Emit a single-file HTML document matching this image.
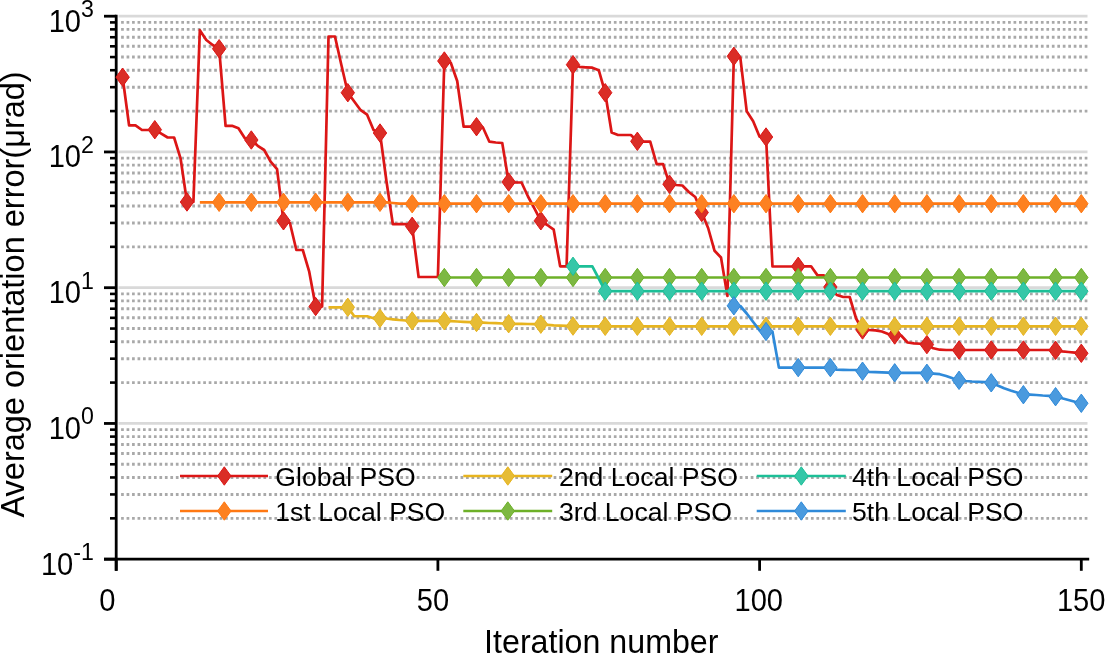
<!DOCTYPE html>
<html><head><meta charset="utf-8"><style>
html,body{margin:0;padding:0;background:#fff;}
svg{display:block;will-change:transform;}
text{font-family:"Liberation Sans",sans-serif;fill:#000;}
</style></head><body>
<svg width="1105" height="654" viewBox="0 0 1105 654">
<rect width="1105" height="654" fill="#fff"/>
<line x1="118.5" y1="16.20" x2="1087.5" y2="16.20" stroke="#d9d9d9" stroke-width="2.8"/>
<line x1="118.5" y1="151.95" x2="1087.5" y2="151.95" stroke="#d9d9d9" stroke-width="2.8"/>
<line x1="118.5" y1="287.70" x2="1087.5" y2="287.70" stroke="#d9d9d9" stroke-width="2.8"/>
<line x1="118.5" y1="423.45" x2="1087.5" y2="423.45" stroke="#d9d9d9" stroke-width="2.8"/>
<line x1="121.1" y1="111.09" x2="1087.5" y2="111.09" stroke="#a9a9a9" stroke-width="2.9" stroke-dasharray="2.7 2.775"/>
<line x1="121.1" y1="87.18" x2="1087.5" y2="87.18" stroke="#a9a9a9" stroke-width="2.9" stroke-dasharray="2.7 2.775"/>
<line x1="121.1" y1="70.22" x2="1087.5" y2="70.22" stroke="#a9a9a9" stroke-width="2.9" stroke-dasharray="2.7 2.775"/>
<line x1="121.1" y1="57.06" x2="1087.5" y2="57.06" stroke="#a9a9a9" stroke-width="2.9" stroke-dasharray="2.7 2.775"/>
<line x1="121.1" y1="46.32" x2="1087.5" y2="46.32" stroke="#a9a9a9" stroke-width="2.9" stroke-dasharray="2.7 2.775"/>
<line x1="121.1" y1="37.23" x2="1087.5" y2="37.23" stroke="#a9a9a9" stroke-width="2.9" stroke-dasharray="2.7 2.775"/>
<line x1="121.1" y1="29.36" x2="1087.5" y2="29.36" stroke="#a9a9a9" stroke-width="2.9" stroke-dasharray="2.7 2.775"/>
<line x1="121.1" y1="22.41" x2="1087.5" y2="22.41" stroke="#a9a9a9" stroke-width="2.9" stroke-dasharray="2.7 2.775"/>
<line x1="121.1" y1="246.84" x2="1087.5" y2="246.84" stroke="#a9a9a9" stroke-width="2.9" stroke-dasharray="2.7 2.775"/>
<line x1="121.1" y1="222.93" x2="1087.5" y2="222.93" stroke="#a9a9a9" stroke-width="2.9" stroke-dasharray="2.7 2.775"/>
<line x1="121.1" y1="205.97" x2="1087.5" y2="205.97" stroke="#a9a9a9" stroke-width="2.9" stroke-dasharray="2.7 2.775"/>
<line x1="121.1" y1="192.81" x2="1087.5" y2="192.81" stroke="#a9a9a9" stroke-width="2.9" stroke-dasharray="2.7 2.775"/>
<line x1="121.1" y1="182.07" x2="1087.5" y2="182.07" stroke="#a9a9a9" stroke-width="2.9" stroke-dasharray="2.7 2.775"/>
<line x1="121.1" y1="172.98" x2="1087.5" y2="172.98" stroke="#a9a9a9" stroke-width="2.9" stroke-dasharray="2.7 2.775"/>
<line x1="121.1" y1="165.11" x2="1087.5" y2="165.11" stroke="#a9a9a9" stroke-width="2.9" stroke-dasharray="2.7 2.775"/>
<line x1="121.1" y1="158.16" x2="1087.5" y2="158.16" stroke="#a9a9a9" stroke-width="2.9" stroke-dasharray="2.7 2.775"/>
<line x1="121.1" y1="382.59" x2="1087.5" y2="382.59" stroke="#a9a9a9" stroke-width="2.9" stroke-dasharray="2.7 2.775"/>
<line x1="121.1" y1="358.68" x2="1087.5" y2="358.68" stroke="#a9a9a9" stroke-width="2.9" stroke-dasharray="2.7 2.775"/>
<line x1="121.1" y1="341.72" x2="1087.5" y2="341.72" stroke="#a9a9a9" stroke-width="2.9" stroke-dasharray="2.7 2.775"/>
<line x1="121.1" y1="328.56" x2="1087.5" y2="328.56" stroke="#a9a9a9" stroke-width="2.9" stroke-dasharray="2.7 2.775"/>
<line x1="121.1" y1="317.82" x2="1087.5" y2="317.82" stroke="#a9a9a9" stroke-width="2.9" stroke-dasharray="2.7 2.775"/>
<line x1="121.1" y1="308.73" x2="1087.5" y2="308.73" stroke="#a9a9a9" stroke-width="2.9" stroke-dasharray="2.7 2.775"/>
<line x1="121.1" y1="300.86" x2="1087.5" y2="300.86" stroke="#a9a9a9" stroke-width="2.9" stroke-dasharray="2.7 2.775"/>
<line x1="121.1" y1="293.91" x2="1087.5" y2="293.91" stroke="#a9a9a9" stroke-width="2.9" stroke-dasharray="2.7 2.775"/>
<line x1="121.1" y1="518.34" x2="1087.5" y2="518.34" stroke="#a9a9a9" stroke-width="2.9" stroke-dasharray="2.7 2.775"/>
<line x1="121.1" y1="494.43" x2="1087.5" y2="494.43" stroke="#a9a9a9" stroke-width="2.9" stroke-dasharray="2.7 2.775"/>
<line x1="121.1" y1="477.47" x2="1087.5" y2="477.47" stroke="#a9a9a9" stroke-width="2.9" stroke-dasharray="2.7 2.775"/>
<line x1="121.1" y1="464.31" x2="1087.5" y2="464.31" stroke="#a9a9a9" stroke-width="2.9" stroke-dasharray="2.7 2.775"/>
<line x1="121.1" y1="453.57" x2="1087.5" y2="453.57" stroke="#a9a9a9" stroke-width="2.9" stroke-dasharray="2.7 2.775"/>
<line x1="121.1" y1="444.48" x2="1087.5" y2="444.48" stroke="#a9a9a9" stroke-width="2.9" stroke-dasharray="2.7 2.775"/>
<line x1="121.1" y1="436.61" x2="1087.5" y2="436.61" stroke="#a9a9a9" stroke-width="2.9" stroke-dasharray="2.7 2.775"/>
<line x1="121.1" y1="429.66" x2="1087.5" y2="429.66" stroke="#a9a9a9" stroke-width="2.9" stroke-dasharray="2.7 2.775"/>
<line x1="116.2" y1="14.8" x2="116.2" y2="570.8" stroke="#000" stroke-width="2.8"/>
<line x1="104" y1="559.2" x2="1089.2" y2="559.2" stroke="#000" stroke-width="2.8"/>
<line x1="104" y1="16.20" x2="116.2" y2="16.20" stroke="#000" stroke-width="2.8"/>
<line x1="110" y1="111.09" x2="116.2" y2="111.09" stroke="#000" stroke-width="2.6"/>
<line x1="110" y1="87.18" x2="116.2" y2="87.18" stroke="#000" stroke-width="2.6"/>
<line x1="110" y1="70.22" x2="116.2" y2="70.22" stroke="#000" stroke-width="2.6"/>
<line x1="110" y1="57.06" x2="116.2" y2="57.06" stroke="#000" stroke-width="2.6"/>
<line x1="110" y1="46.32" x2="116.2" y2="46.32" stroke="#000" stroke-width="2.6"/>
<line x1="110" y1="37.23" x2="116.2" y2="37.23" stroke="#000" stroke-width="2.6"/>
<line x1="110" y1="29.36" x2="116.2" y2="29.36" stroke="#000" stroke-width="2.6"/>
<line x1="110" y1="22.41" x2="116.2" y2="22.41" stroke="#000" stroke-width="2.6"/>
<line x1="104" y1="151.95" x2="116.2" y2="151.95" stroke="#000" stroke-width="2.8"/>
<line x1="110" y1="246.84" x2="116.2" y2="246.84" stroke="#000" stroke-width="2.6"/>
<line x1="110" y1="222.93" x2="116.2" y2="222.93" stroke="#000" stroke-width="2.6"/>
<line x1="110" y1="205.97" x2="116.2" y2="205.97" stroke="#000" stroke-width="2.6"/>
<line x1="110" y1="192.81" x2="116.2" y2="192.81" stroke="#000" stroke-width="2.6"/>
<line x1="110" y1="182.07" x2="116.2" y2="182.07" stroke="#000" stroke-width="2.6"/>
<line x1="110" y1="172.98" x2="116.2" y2="172.98" stroke="#000" stroke-width="2.6"/>
<line x1="110" y1="165.11" x2="116.2" y2="165.11" stroke="#000" stroke-width="2.6"/>
<line x1="110" y1="158.16" x2="116.2" y2="158.16" stroke="#000" stroke-width="2.6"/>
<line x1="104" y1="287.70" x2="116.2" y2="287.70" stroke="#000" stroke-width="2.8"/>
<line x1="110" y1="382.59" x2="116.2" y2="382.59" stroke="#000" stroke-width="2.6"/>
<line x1="110" y1="358.68" x2="116.2" y2="358.68" stroke="#000" stroke-width="2.6"/>
<line x1="110" y1="341.72" x2="116.2" y2="341.72" stroke="#000" stroke-width="2.6"/>
<line x1="110" y1="328.56" x2="116.2" y2="328.56" stroke="#000" stroke-width="2.6"/>
<line x1="110" y1="317.82" x2="116.2" y2="317.82" stroke="#000" stroke-width="2.6"/>
<line x1="110" y1="308.73" x2="116.2" y2="308.73" stroke="#000" stroke-width="2.6"/>
<line x1="110" y1="300.86" x2="116.2" y2="300.86" stroke="#000" stroke-width="2.6"/>
<line x1="110" y1="293.91" x2="116.2" y2="293.91" stroke="#000" stroke-width="2.6"/>
<line x1="104" y1="423.45" x2="116.2" y2="423.45" stroke="#000" stroke-width="2.8"/>
<line x1="110" y1="518.34" x2="116.2" y2="518.34" stroke="#000" stroke-width="2.6"/>
<line x1="110" y1="494.43" x2="116.2" y2="494.43" stroke="#000" stroke-width="2.6"/>
<line x1="110" y1="477.47" x2="116.2" y2="477.47" stroke="#000" stroke-width="2.6"/>
<line x1="110" y1="464.31" x2="116.2" y2="464.31" stroke="#000" stroke-width="2.6"/>
<line x1="110" y1="453.57" x2="116.2" y2="453.57" stroke="#000" stroke-width="2.6"/>
<line x1="110" y1="444.48" x2="116.2" y2="444.48" stroke="#000" stroke-width="2.6"/>
<line x1="110" y1="436.61" x2="116.2" y2="436.61" stroke="#000" stroke-width="2.6"/>
<line x1="110" y1="429.66" x2="116.2" y2="429.66" stroke="#000" stroke-width="2.6"/>
<line x1="104" y1="559.20" x2="116.2" y2="559.20" stroke="#000" stroke-width="2.8"/>
<line x1="116.20" y1="559.2" x2="116.20" y2="570.8" stroke="#000" stroke-width="2.8"/>
<line x1="437.90" y1="559.2" x2="437.90" y2="570.8" stroke="#000" stroke-width="2.8"/>
<line x1="759.60" y1="559.2" x2="759.60" y2="570.8" stroke="#000" stroke-width="2.8"/>
<line x1="1081.30" y1="559.2" x2="1081.30" y2="570.8" stroke="#000" stroke-width="2.8"/>
<polyline points="122.63,77.20 129.07,125.30 135.50,125.30 141.94,130.00 148.37,130.00 154.80,129.70 161.24,133.60 167.67,137.50 174.11,137.50 180.54,158.30 186.97,202.00 193.41,202.00 199.84,30.20 206.28,40.00 212.71,45.00 219.14,48.70 225.58,125.80 232.01,125.80 238.45,128.30 244.88,138.30 251.31,140.00 257.75,145.80 264.18,150.00 270.62,161.70 277.05,169.20 283.48,220.80 289.92,223.00 296.35,250.00 302.79,250.00 309.22,271.70 315.65,306.50 322.09,306.50 328.52,36.50 334.96,36.50 341.39,65.00 347.82,92.70 354.26,101.50 360.69,110.20 367.13,114.70 373.56,130.00 379.99,133.00 386.43,181.00 392.86,224.20 399.30,224.20 405.73,224.20 412.16,226.30 418.60,277.00 425.03,277.00 431.47,277.00 437.90,277.00 444.33,61.00 450.77,62.70 457.20,81.00 463.64,126.70 470.07,126.70 476.50,126.70 482.94,127.50 489.37,141.70 495.81,142.50 502.24,143.00 508.67,182.00 515.11,182.50 521.54,182.50 527.98,196.50 534.41,208.30 540.84,220.80 547.28,225.00 553.71,229.70 560.15,266.30 566.58,266.30 573.01,64.70 579.45,66.80 585.88,67.30 592.32,67.70 598.75,70.20 605.18,92.70 611.62,132.50 618.05,135.00 624.49,135.00 630.92,135.00 637.35,141.30 643.79,141.70 650.22,141.70 656.66,164.20 663.09,164.20 669.52,184.20 675.96,185.00 682.39,185.50 688.83,192.00 695.26,197.00 701.69,212.50 708.13,228.00 714.56,250.80 721.00,257.50 727.43,296.00 733.86,56.30 740.30,57.50 746.73,111.30 753.17,121.30 759.60,136.70 766.03,137.00 772.47,266.50 778.90,266.50 785.34,266.50 791.77,266.50 798.20,266.30 804.64,266.30 811.07,266.30 817.51,275.40 823.94,275.40 830.37,287.00 836.81,295.00 843.24,297.00 849.68,297.00 856.11,318.50 862.54,330.00 868.98,330.00 875.41,330.30 881.85,331.50 888.28,334.00 894.71,335.00 901.15,335.50 907.58,342.50 914.02,343.30 920.45,343.75 926.88,344.60 933.32,348.30 939.75,349.70 946.19,350.00 952.62,350.00 959.05,350.00 965.49,350.00 971.92,350.00 978.36,350.00 984.79,350.00 991.22,350.00 997.66,350.00 1004.09,350.00 1010.53,350.00 1016.96,350.00 1023.39,350.00 1029.83,350.00 1036.26,350.00 1042.70,350.00 1049.13,350.00 1055.56,350.30 1062.00,351.30 1068.43,352.00 1074.87,352.70 1081.30,353.30" fill="none" stroke="#dc1616" stroke-width="2.7" stroke-linejoin="round"/>
<path d="M115.93,77.20L122.63,68.00L129.33,77.20L122.63,86.40ZM148.10,129.70L154.80,120.50L161.50,129.70L154.80,138.90ZM180.27,202.00L186.97,192.80L193.67,202.00L186.97,211.20ZM212.44,48.70L219.14,39.50L225.84,48.70L219.14,57.90ZM244.61,140.00L251.31,130.80L258.01,140.00L251.31,149.20ZM276.78,220.80L283.48,211.60L290.18,220.80L283.48,230.00ZM308.95,306.50L315.65,297.30L322.35,306.50L315.65,315.70ZM341.12,92.70L347.82,83.50L354.52,92.70L347.82,101.90ZM373.29,133.00L379.99,123.80L386.69,133.00L379.99,142.20ZM405.46,226.30L412.16,217.10L418.86,226.30L412.16,235.50ZM437.63,61.00L444.33,51.80L451.03,61.00L444.33,70.20ZM469.80,126.70L476.50,117.50L483.20,126.70L476.50,135.90ZM501.97,182.00L508.67,172.80L515.37,182.00L508.67,191.20ZM534.14,220.80L540.84,211.60L547.54,220.80L540.84,230.00ZM566.31,64.70L573.01,55.50L579.71,64.70L573.01,73.90ZM598.48,92.70L605.18,83.50L611.88,92.70L605.18,101.90ZM630.65,141.30L637.35,132.10L644.05,141.30L637.35,150.50ZM662.82,184.20L669.52,175.00L676.22,184.20L669.52,193.40ZM694.99,212.50L701.69,203.30L708.39,212.50L701.69,221.70ZM727.16,56.30L733.86,47.10L740.56,56.30L733.86,65.50ZM759.33,137.00L766.03,127.80L772.73,137.00L766.03,146.20ZM791.50,266.30L798.20,257.10L804.90,266.30L798.20,275.50ZM823.67,287.00L830.37,277.80L837.07,287.00L830.37,296.20ZM855.84,330.00L862.54,320.80L869.24,330.00L862.54,339.20ZM888.01,335.00L894.71,325.80L901.41,335.00L894.71,344.20ZM920.18,344.60L926.88,335.40L933.58,344.60L926.88,353.80ZM952.35,350.00L959.05,340.80L965.75,350.00L959.05,359.20ZM984.52,350.00L991.22,340.80L997.92,350.00L991.22,359.20ZM1016.69,350.00L1023.39,340.80L1030.09,350.00L1023.39,359.20ZM1048.86,350.30L1055.56,341.10L1062.26,350.30L1055.56,359.50ZM1074.60,353.30L1081.30,344.10L1088.00,353.30L1081.30,362.50Z" fill="#da2d26" stroke="#dc1616" stroke-width="1" stroke-linejoin="miter"/>
<polyline points="199.84,202.30 206.28,202.30 212.71,202.30 219.14,202.30 225.58,202.30 232.01,202.30 238.45,202.30 244.88,202.30 251.31,202.30 257.75,202.30 264.18,202.30 270.62,202.30 277.05,202.30 283.48,202.30 289.92,202.30 296.35,202.30 302.79,202.30 309.22,202.30 315.65,202.30 322.09,202.30 328.52,202.30 334.96,202.30 341.39,202.30 347.82,202.30 354.26,202.30 360.69,202.30 367.13,202.30 373.56,202.30 379.99,202.30 386.43,202.30 392.86,203.00 399.30,203.70 405.73,203.70 412.16,203.70 418.60,203.70 425.03,203.70 431.47,203.70 437.90,203.70 444.33,203.70 450.77,203.70 457.20,203.70 463.64,203.70 470.07,203.70 476.50,203.70 482.94,203.70 489.37,203.70 495.81,203.70 502.24,203.70 508.67,203.70 515.11,203.70 521.54,203.70 527.98,203.70 534.41,203.70 540.84,203.70 547.28,203.70 553.71,203.70 560.15,203.70 566.58,203.70 573.01,203.70 579.45,203.70 585.88,203.70 592.32,203.70 598.75,203.70 605.18,203.70 611.62,203.70 618.05,203.70 624.49,203.70 630.92,203.70 637.35,203.70 643.79,203.70 650.22,203.70 656.66,203.70 663.09,203.70 669.52,203.70 675.96,203.70 682.39,203.70 688.83,203.70 695.26,203.70 701.69,203.70 708.13,203.70 714.56,203.70 721.00,203.70 727.43,203.70 733.86,203.70 740.30,203.70 746.73,203.70 753.17,203.70 759.60,203.70 766.03,203.70 772.47,203.70 778.90,203.70 785.34,203.70 791.77,203.70 798.20,203.70 804.64,203.70 811.07,203.70 817.51,203.70 823.94,203.70 830.37,203.70 836.81,203.70 843.24,203.70 849.68,203.70 856.11,203.70 862.54,203.70 868.98,203.70 875.41,203.70 881.85,203.70 888.28,203.70 894.71,203.70 901.15,203.70 907.58,203.70 914.02,203.70 920.45,203.70 926.88,203.70 933.32,203.70 939.75,203.70 946.19,203.70 952.62,203.70 959.05,203.70 965.49,203.70 971.92,203.70 978.36,203.70 984.79,203.70 991.22,203.70 997.66,203.70 1004.09,203.70 1010.53,203.70 1016.96,203.70 1023.39,203.70 1029.83,203.70 1036.26,203.70 1042.70,203.70 1049.13,203.70 1055.56,203.70 1062.00,203.70 1068.43,203.70 1074.87,203.70 1081.30,203.70" fill="none" stroke="#ff7812" stroke-width="2.7" stroke-linejoin="round"/>
<path d="M212.44,202.30L219.14,193.10L225.84,202.30L219.14,211.50ZM244.61,202.30L251.31,193.10L258.01,202.30L251.31,211.50ZM276.78,202.30L283.48,193.10L290.18,202.30L283.48,211.50ZM308.95,202.30L315.65,193.10L322.35,202.30L315.65,211.50ZM341.12,202.30L347.82,193.10L354.52,202.30L347.82,211.50ZM373.29,202.30L379.99,193.10L386.69,202.30L379.99,211.50ZM405.46,203.70L412.16,194.50L418.86,203.70L412.16,212.90ZM437.63,203.70L444.33,194.50L451.03,203.70L444.33,212.90ZM469.80,203.70L476.50,194.50L483.20,203.70L476.50,212.90ZM501.97,203.70L508.67,194.50L515.37,203.70L508.67,212.90ZM534.14,203.70L540.84,194.50L547.54,203.70L540.84,212.90ZM566.31,203.70L573.01,194.50L579.71,203.70L573.01,212.90ZM598.48,203.70L605.18,194.50L611.88,203.70L605.18,212.90ZM630.65,203.70L637.35,194.50L644.05,203.70L637.35,212.90ZM662.82,203.70L669.52,194.50L676.22,203.70L669.52,212.90ZM694.99,203.70L701.69,194.50L708.39,203.70L701.69,212.90ZM727.16,203.70L733.86,194.50L740.56,203.70L733.86,212.90ZM759.33,203.70L766.03,194.50L772.73,203.70L766.03,212.90ZM791.50,203.70L798.20,194.50L804.90,203.70L798.20,212.90ZM823.67,203.70L830.37,194.50L837.07,203.70L830.37,212.90ZM855.84,203.70L862.54,194.50L869.24,203.70L862.54,212.90ZM888.01,203.70L894.71,194.50L901.41,203.70L894.71,212.90ZM920.18,203.70L926.88,194.50L933.58,203.70L926.88,212.90ZM952.35,203.70L959.05,194.50L965.75,203.70L959.05,212.90ZM984.52,203.70L991.22,194.50L997.92,203.70L991.22,212.90ZM1016.69,203.70L1023.39,194.50L1030.09,203.70L1023.39,212.90ZM1048.86,203.70L1055.56,194.50L1062.26,203.70L1055.56,212.90ZM1074.60,203.70L1081.30,194.50L1088.00,203.70L1081.30,212.90Z" fill="#fd8121" stroke="#ff7812" stroke-width="1" stroke-linejoin="miter"/>
<polyline points="328.52,307.30 334.96,307.30 341.39,307.30 347.82,307.30 354.26,316.25 360.69,316.25 367.13,316.25 373.56,318.30 379.99,318.30 386.43,318.50 392.86,319.30 399.30,320.00 405.73,320.50 412.16,320.80 418.60,320.80 425.03,320.80 431.47,320.80 437.90,320.80 444.33,320.80 450.77,321.20 457.20,321.50 463.64,321.90 470.07,322.20 476.50,322.50 482.94,322.70 489.37,323.00 495.81,323.20 502.24,323.50 508.67,323.70 515.11,323.80 521.54,323.90 527.98,324.00 534.41,324.10 540.84,324.20 547.28,324.80 553.71,325.30 560.15,325.60 566.58,325.90 573.01,326.10 579.45,326.30 585.88,326.30 592.32,326.30 598.75,326.30 605.18,326.30 611.62,326.30 618.05,326.30 624.49,326.30 630.92,326.30 637.35,326.30 643.79,326.30 650.22,326.30 656.66,326.30 663.09,326.30 669.52,326.30 675.96,326.30 682.39,326.30 688.83,326.30 695.26,326.30 701.69,326.30 708.13,326.30 714.56,326.30 721.00,326.30 727.43,326.30 733.86,326.30 740.30,326.30 746.73,326.30 753.17,326.30 759.60,326.30 766.03,326.30 772.47,326.30 778.90,326.30 785.34,326.30 791.77,326.30 798.20,326.30 804.64,326.30 811.07,326.30 817.51,326.30 823.94,326.30 830.37,326.30 836.81,326.30 843.24,326.30 849.68,326.30 856.11,326.30 862.54,326.30 868.98,326.30 875.41,326.30 881.85,326.30 888.28,326.30 894.71,326.30 901.15,326.30 907.58,326.30 914.02,326.30 920.45,326.30 926.88,326.30 933.32,326.30 939.75,326.30 946.19,326.30 952.62,326.30 959.05,326.30 965.49,326.30 971.92,326.30 978.36,326.30 984.79,326.30 991.22,326.30 997.66,326.30 1004.09,326.30 1010.53,326.30 1016.96,326.30 1023.39,326.30 1029.83,326.30 1036.26,326.30 1042.70,326.30 1049.13,326.30 1055.56,326.30 1062.00,326.30 1068.43,326.30 1074.87,326.30 1081.30,326.30" fill="none" stroke="#e7b41f" stroke-width="2.7" stroke-linejoin="round"/>
<path d="M341.12,307.30L347.82,298.10L354.52,307.30L347.82,316.50ZM373.29,318.30L379.99,309.10L386.69,318.30L379.99,327.50ZM405.46,320.80L412.16,311.60L418.86,320.80L412.16,330.00ZM437.63,320.80L444.33,311.60L451.03,320.80L444.33,330.00ZM469.80,322.50L476.50,313.30L483.20,322.50L476.50,331.70ZM501.97,323.70L508.67,314.50L515.37,323.70L508.67,332.90ZM534.14,324.20L540.84,315.00L547.54,324.20L540.84,333.40ZM566.31,326.10L573.01,316.90L579.71,326.10L573.01,335.30ZM598.48,326.30L605.18,317.10L611.88,326.30L605.18,335.50ZM630.65,326.30L637.35,317.10L644.05,326.30L637.35,335.50ZM662.82,326.30L669.52,317.10L676.22,326.30L669.52,335.50ZM694.99,326.30L701.69,317.10L708.39,326.30L701.69,335.50ZM727.16,326.30L733.86,317.10L740.56,326.30L733.86,335.50ZM759.33,326.30L766.03,317.10L772.73,326.30L766.03,335.50ZM791.50,326.30L798.20,317.10L804.90,326.30L798.20,335.50ZM823.67,326.30L830.37,317.10L837.07,326.30L830.37,335.50ZM855.84,326.30L862.54,317.10L869.24,326.30L862.54,335.50ZM888.01,326.30L894.71,317.10L901.41,326.30L894.71,335.50ZM920.18,326.30L926.88,317.10L933.58,326.30L926.88,335.50ZM952.35,326.30L959.05,317.10L965.75,326.30L959.05,335.50ZM984.52,326.30L991.22,317.10L997.92,326.30L991.22,335.50ZM1016.69,326.30L1023.39,317.10L1030.09,326.30L1023.39,335.50ZM1048.86,326.30L1055.56,317.10L1062.26,326.30L1055.56,335.50ZM1074.60,326.30L1081.30,317.10L1088.00,326.30L1081.30,335.50Z" fill="#e6bc35" stroke="#e7b41f" stroke-width="1" stroke-linejoin="miter"/>
<polyline points="444.33,277.50 450.77,277.50 457.20,277.50 463.64,277.50 470.07,277.50 476.50,277.50 482.94,277.50 489.37,277.50 495.81,277.50 502.24,277.50 508.67,277.50 515.11,277.50 521.54,277.50 527.98,277.50 534.41,277.50 540.84,277.50 547.28,277.50 553.71,277.50 560.15,277.50 566.58,277.50 573.01,277.50 579.45,277.50 585.88,277.50 592.32,277.50 598.75,277.50 605.18,277.50 611.62,277.50 618.05,277.50 624.49,277.50 630.92,277.50 637.35,277.50 643.79,277.50 650.22,277.50 656.66,277.50 663.09,277.50 669.52,277.50 675.96,277.50 682.39,277.50 688.83,277.50 695.26,277.50 701.69,277.50 708.13,277.50 714.56,277.50 721.00,277.50 727.43,277.50 733.86,277.50 740.30,277.50 746.73,277.50 753.17,277.50 759.60,277.50 766.03,277.50 772.47,277.50 778.90,277.50 785.34,277.50 791.77,277.50 798.20,277.50 804.64,277.50 811.07,277.50 817.51,277.50 823.94,277.50 830.37,277.50 836.81,277.50 843.24,277.50 849.68,277.50 856.11,277.50 862.54,277.50 868.98,277.50 875.41,277.50 881.85,277.50 888.28,277.50 894.71,277.50 901.15,277.50 907.58,277.50 914.02,277.50 920.45,277.50 926.88,277.50 933.32,277.50 939.75,277.50 946.19,277.50 952.62,277.50 959.05,277.50 965.49,277.50 971.92,277.50 978.36,277.50 984.79,277.50 991.22,277.50 997.66,277.50 1004.09,277.50 1010.53,277.50 1016.96,277.50 1023.39,277.50 1029.83,277.50 1036.26,277.50 1042.70,277.50 1049.13,277.50 1055.56,277.50 1062.00,277.50 1068.43,277.50 1074.87,277.50 1081.30,277.50" fill="none" stroke="#6db028" stroke-width="2.7" stroke-linejoin="round"/>
<path d="M437.63,277.50L444.33,268.30L451.03,277.50L444.33,286.70ZM469.80,277.50L476.50,268.30L483.20,277.50L476.50,286.70ZM501.97,277.50L508.67,268.30L515.37,277.50L508.67,286.70ZM534.14,277.50L540.84,268.30L547.54,277.50L540.84,286.70ZM566.31,277.50L573.01,268.30L579.71,277.50L573.01,286.70ZM598.48,277.50L605.18,268.30L611.88,277.50L605.18,286.70ZM630.65,277.50L637.35,268.30L644.05,277.50L637.35,286.70ZM662.82,277.50L669.52,268.30L676.22,277.50L669.52,286.70ZM694.99,277.50L701.69,268.30L708.39,277.50L701.69,286.70ZM727.16,277.50L733.86,268.30L740.56,277.50L733.86,286.70ZM759.33,277.50L766.03,268.30L772.73,277.50L766.03,286.70ZM791.50,277.50L798.20,268.30L804.90,277.50L798.20,286.70ZM823.67,277.50L830.37,268.30L837.07,277.50L830.37,286.70ZM855.84,277.50L862.54,268.30L869.24,277.50L862.54,286.70ZM888.01,277.50L894.71,268.30L901.41,277.50L894.71,286.70ZM920.18,277.50L926.88,268.30L933.58,277.50L926.88,286.70ZM952.35,277.50L959.05,268.30L965.75,277.50L959.05,286.70ZM984.52,277.50L991.22,268.30L997.92,277.50L991.22,286.70ZM1016.69,277.50L1023.39,268.30L1030.09,277.50L1023.39,286.70ZM1048.86,277.50L1055.56,268.30L1062.26,277.50L1055.56,286.70ZM1074.60,277.50L1081.30,268.30L1088.00,277.50L1081.30,286.70Z" fill="#7db842" stroke="#6db028" stroke-width="1" stroke-linejoin="miter"/>
<polyline points="573.01,266.30 579.45,266.30 585.88,266.30 592.32,266.30 598.75,278.50 605.18,291.20 611.62,291.20 618.05,291.20 624.49,291.20 630.92,291.20 637.35,291.20 643.79,291.20 650.22,291.20 656.66,291.20 663.09,291.20 669.52,291.20 675.96,291.20 682.39,291.20 688.83,291.20 695.26,291.20 701.69,291.20 708.13,291.20 714.56,291.20 721.00,291.20 727.43,291.20 733.86,291.20 740.30,291.20 746.73,291.20 753.17,291.20 759.60,291.20 766.03,291.20 772.47,291.20 778.90,291.20 785.34,291.20 791.77,291.20 798.20,291.20 804.64,291.20 811.07,291.20 817.51,291.20 823.94,291.20 830.37,291.20 836.81,291.20 843.24,291.20 849.68,291.20 856.11,291.20 862.54,291.20 868.98,291.20 875.41,291.20 881.85,291.20 888.28,291.20 894.71,291.20 901.15,291.20 907.58,291.20 914.02,291.20 920.45,291.20 926.88,291.20 933.32,291.20 939.75,291.20 946.19,291.20 952.62,291.20 959.05,291.20 965.49,291.20 971.92,291.20 978.36,291.20 984.79,291.20 991.22,291.20 997.66,291.20 1004.09,291.20 1010.53,291.20 1016.96,291.20 1023.39,291.20 1029.83,291.20 1036.26,291.20 1042.70,291.20 1049.13,291.20 1055.56,291.20 1062.00,291.20 1068.43,291.20 1074.87,291.20 1081.30,291.20" fill="none" stroke="#1cbf97" stroke-width="2.7" stroke-linejoin="round"/>
<path d="M566.31,266.30L573.01,257.10L579.71,266.30L573.01,275.50ZM598.48,291.20L605.18,282.00L611.88,291.20L605.18,300.40ZM630.65,291.20L637.35,282.00L644.05,291.20L637.35,300.40ZM662.82,291.20L669.52,282.00L676.22,291.20L669.52,300.40ZM694.99,291.20L701.69,282.00L708.39,291.20L701.69,300.40ZM727.16,291.20L733.86,282.00L740.56,291.20L733.86,300.40ZM759.33,291.20L766.03,282.00L772.73,291.20L766.03,300.40ZM791.50,291.20L798.20,282.00L804.90,291.20L798.20,300.40ZM823.67,291.20L830.37,282.00L837.07,291.20L830.37,300.40ZM855.84,291.20L862.54,282.00L869.24,291.20L862.54,300.40ZM888.01,291.20L894.71,282.00L901.41,291.20L894.71,300.40ZM920.18,291.20L926.88,282.00L933.58,291.20L926.88,300.40ZM952.35,291.20L959.05,282.00L965.75,291.20L959.05,300.40ZM984.52,291.20L991.22,282.00L997.92,291.20L991.22,300.40ZM1016.69,291.20L1023.39,282.00L1030.09,291.20L1023.39,300.40ZM1048.86,291.20L1055.56,282.00L1062.26,291.20L1055.56,300.40ZM1074.60,291.20L1081.30,282.00L1088.00,291.20L1081.30,300.40Z" fill="#35c7a8" stroke="#1cbf97" stroke-width="1" stroke-linejoin="miter"/>
<polyline points="733.86,305.80 740.30,306.00 746.73,313.50 753.17,322.00 759.60,330.40 766.03,331.50 772.47,331.70 778.90,367.60 785.34,367.60 791.77,367.60 798.20,367.60 804.64,367.60 811.07,367.60 817.51,367.60 823.94,367.60 830.37,367.60 836.81,369.60 843.24,369.80 849.68,370.00 856.11,370.00 862.54,371.20 868.98,371.80 875.41,372.10 881.85,372.40 888.28,372.70 894.71,372.80 901.15,372.80 907.58,372.80 914.02,372.80 920.45,372.80 926.88,373.30 933.32,373.70 939.75,374.20 946.19,376.00 952.62,378.30 959.05,380.30 965.49,381.00 971.92,381.50 978.36,381.80 984.79,382.00 991.22,382.80 997.66,385.50 1004.09,388.30 1010.53,390.50 1016.96,392.50 1023.39,394.70 1029.83,394.70 1036.26,395.00 1042.70,395.50 1049.13,395.80 1055.56,396.70 1062.00,398.30 1068.43,400.00 1074.87,401.70 1081.30,403.30" fill="none" stroke="#2f8ad9" stroke-width="2.7" stroke-linejoin="round"/>
<path d="M727.16,305.80L733.86,296.60L740.56,305.80L733.86,315.00ZM759.33,331.50L766.03,322.30L772.73,331.50L766.03,340.70ZM791.50,367.60L798.20,358.40L804.90,367.60L798.20,376.80ZM823.67,367.60L830.37,358.40L837.07,367.60L830.37,376.80ZM855.84,371.20L862.54,362.00L869.24,371.20L862.54,380.40ZM888.01,372.80L894.71,363.60L901.41,372.80L894.71,382.00ZM920.18,373.30L926.88,364.10L933.58,373.30L926.88,382.50ZM952.35,380.30L959.05,371.10L965.75,380.30L959.05,389.50ZM984.52,382.80L991.22,373.60L997.92,382.80L991.22,392.00ZM1016.69,394.70L1023.39,385.50L1030.09,394.70L1023.39,403.90ZM1048.86,396.70L1055.56,387.50L1062.26,396.70L1055.56,405.90ZM1074.60,403.30L1081.30,394.10L1088.00,403.30L1081.30,412.50Z" fill="#4a9ade" stroke="#2f8ad9" stroke-width="1" stroke-linejoin="miter"/>
<text transform="translate(99.2,610.7) scale(1,1.055)" font-family="Liberation Sans, sans-serif" font-size="29.1">0</text>
<text transform="translate(416.8,610.7) scale(1,1.055)" font-family="Liberation Sans, sans-serif" font-size="29.1">50</text>
<text transform="translate(734.5,610.7) scale(1,1.055)" font-family="Liberation Sans, sans-serif" font-size="29.1">100</text>
<text transform="translate(1056.9,610.7) scale(1,1.055)" font-family="Liberation Sans, sans-serif" font-size="29.1">150</text>
<text transform="translate(93.9,31.50) scale(1,1.055)" text-anchor="end" font-family="Liberation Sans, sans-serif" font-size="29.1">10<tspan font-size="23.2" dy="-13.74">3</tspan></text>
<text transform="translate(93.9,167.25) scale(1,1.055)" text-anchor="end" font-family="Liberation Sans, sans-serif" font-size="29.1">10<tspan font-size="23.2" dy="-13.74">2</tspan></text>
<text transform="translate(93.9,303.00) scale(1,1.055)" text-anchor="end" font-family="Liberation Sans, sans-serif" font-size="29.1">10<tspan font-size="23.2" dy="-13.74">1</tspan></text>
<text transform="translate(93.9,438.75) scale(1,1.055)" text-anchor="end" font-family="Liberation Sans, sans-serif" font-size="29.1">10<tspan font-size="23.2" dy="-13.74">0</tspan></text>
<text transform="translate(93.9,574.50) scale(1,1.055)" text-anchor="end" font-family="Liberation Sans, sans-serif" font-size="29.1">10<tspan font-size="23.2" dy="-13.74">-1</tspan></text>
<text transform="translate(484.1,652.9) scale(1,1.03)" font-family="Liberation Sans, sans-serif" font-size="32.2">Iteration number</text>
<text transform="translate(24.2,517.5) rotate(-90) scale(1,1.03)" font-family="Liberation Sans, sans-serif" font-size="32.5">Average orientation error(μrad)</text>
<line x1="180" y1="476" x2="268" y2="476" stroke="#dc1616" stroke-width="2.7"/>
<path d="M217.60000000000002,476L224.3,466.8L231.0,476L224.3,485.2Z" fill="#da2d26" stroke="#dc1616" stroke-width="1"/>
<text x="275.3" y="485.8" font-family="Liberation Sans, sans-serif" font-size="26.6">Global PSO</text>
<line x1="180" y1="511" x2="268" y2="511" stroke="#ff7812" stroke-width="2.7"/>
<path d="M217.60000000000002,511L224.3,501.8L231.0,511L224.3,520.2Z" fill="#fd8121" stroke="#ff7812" stroke-width="1"/>
<text x="275.3" y="520.8" font-family="Liberation Sans, sans-serif" font-size="26.6">1st Local PSO</text>
<line x1="463.3" y1="476" x2="552.2" y2="476" stroke="#e7b41f" stroke-width="2.7"/>
<path d="M501.1,476L507.8,466.8L514.5,476L507.8,485.2Z" fill="#e6bc35" stroke="#e7b41f" stroke-width="1"/>
<text x="559" y="485.8" font-family="Liberation Sans, sans-serif" font-size="26.6">2nd Local PSO</text>
<line x1="463.3" y1="511" x2="552.2" y2="511" stroke="#6db028" stroke-width="2.7"/>
<path d="M501.1,511L507.8,501.8L514.5,511L507.8,520.2Z" fill="#7db842" stroke="#6db028" stroke-width="1"/>
<text x="559" y="520.8" font-family="Liberation Sans, sans-serif" font-size="26.6">3rd Local PSO</text>
<line x1="756.7" y1="476" x2="845.8" y2="476" stroke="#1cbf97" stroke-width="2.7"/>
<path d="M794.5999999999999,476L801.3,466.8L808.0,476L801.3,485.2Z" fill="#35c7a8" stroke="#1cbf97" stroke-width="1"/>
<text x="852" y="485.8" font-family="Liberation Sans, sans-serif" font-size="26.6">4th Local PSO</text>
<line x1="756.7" y1="511" x2="845.8" y2="511" stroke="#2f8ad9" stroke-width="2.7"/>
<path d="M794.5999999999999,511L801.3,501.8L808.0,511L801.3,520.2Z" fill="#4a9ade" stroke="#2f8ad9" stroke-width="1"/>
<text x="852" y="520.8" font-family="Liberation Sans, sans-serif" font-size="26.6">5th Local PSO</text>
</svg>
</body></html>
